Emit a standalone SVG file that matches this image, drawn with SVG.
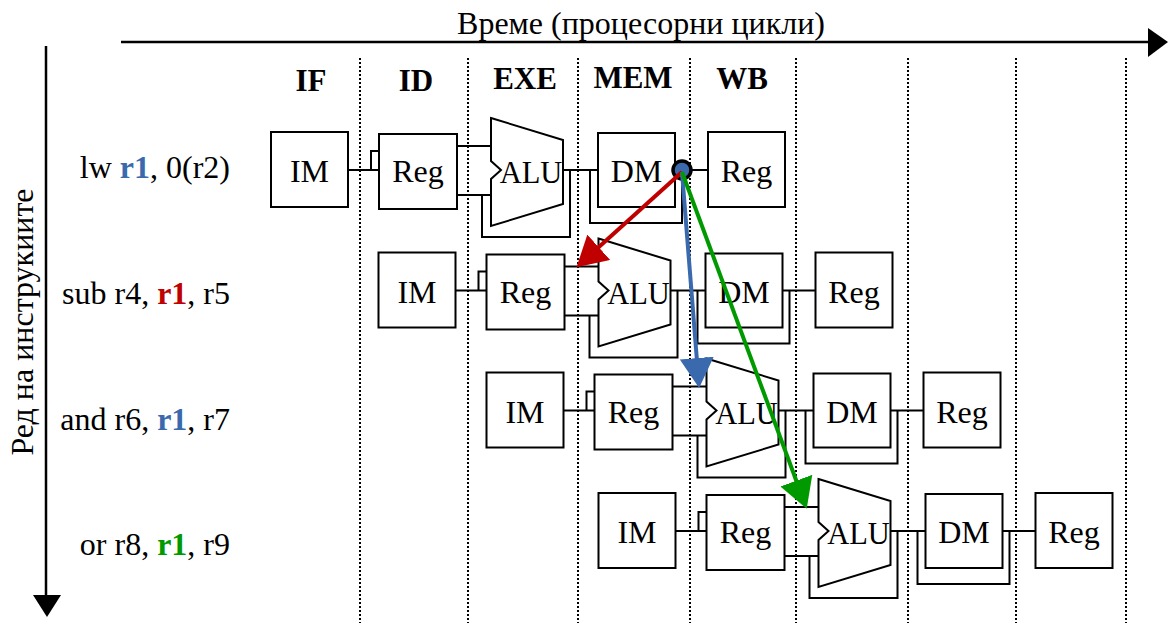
<svg xmlns="http://www.w3.org/2000/svg" xmlns:xlink="http://www.w3.org/1999/xlink" width="1168" height="623" viewBox="0 0 1168 623">
  <style>
    text { font-family: "Liberation Serif", "Times New Roman", serif; fill: #000; }
    .box { fill: #fff; stroke: #000; stroke-width: 2; }
    .alu { fill: #fff; stroke: #000; stroke-width: 2; stroke-linejoin: miter; }
    .lbl { font-size: 32px; text-anchor: middle; }
    .alu-lbl { font-size: 30.5px; text-anchor: middle; }
    .stage { font-size: 31px; font-weight: bold; text-anchor: middle; }
    .instr { font-size: 32px; text-anchor: end; }
    .wire { fill: none; stroke: #000; stroke-width: 2; }
    .grid { stroke: #000; stroke-width: 2; stroke-dasharray: 2 2; }
    .axis { stroke: #000; stroke-width: 2.5; }
    .fwd { fill: none; stroke-width: 4; }
    .b { font-weight: bold; }
  </style>
  <defs>
    <marker id="head-red" viewBox="0 0 30 34" refX="8" refY="17" markerWidth="30" markerHeight="34" markerUnits="userSpaceOnUse" orient="auto">
      <path d="M0,0 L30,17 L0,34 Z" fill="#c00000"/>
    </marker>
    <marker id="head-blue" viewBox="0 0 30 34" refX="8" refY="17" markerWidth="30" markerHeight="34" markerUnits="userSpaceOnUse" orient="auto">
      <path d="M0,0 L30,17 L0,34 Z" fill="#3a6aad"/>
    </marker>
    <marker id="head-green" viewBox="0 0 30 34" refX="8" refY="17" markerWidth="30" markerHeight="34" markerUnits="userSpaceOnUse" orient="auto">
      <path d="M0,0 L30,17 L0,34 Z" fill="#009a00"/>
    </marker>
    <!-- wiring of one pipeline row, in row-1 coordinates -->
    <path id="row-wires" class="wire" d="M348,170 H379 M371,170 V151 H379 M457,146 H491 M457,195 H491 M482,195 V237 H570 V170 M563,170 H598 M590,170 V223 H682 V170 M675,170 H708"/>
  </defs>

  <rect width="1168" height="623" fill="#fff"/>

  <!-- time axis and instruction-order axis -->
  <g id="axes">
    <line class="axis" x1="121" y1="42" x2="1150" y2="42"/>
    <polygon points="1148,28 1168,42 1148,57" fill="#000"/>
    <text x="641" y="34" font-size="32" text-anchor="middle">Време (процесорни цикли)</text>
    <line class="axis" x1="46" y1="46" x2="46" y2="597"/>
    <polygon points="33,595 61,595 47,617" fill="#000"/>
    <text transform="translate(33,322) rotate(-90)" font-size="32" text-anchor="middle">Ред на инструкиите</text>
  </g>

  <!-- cycle boundaries -->
  <g id="grid">
    <line class="grid" x1="360" y1="58" x2="360" y2="623"/>
    <line class="grid" x1="468" y1="58" x2="468" y2="623"/>
    <line class="grid" x1="578" y1="58" x2="578" y2="623"/>
    <line class="grid" x1="690" y1="58" x2="690" y2="623"/>
    <line class="grid" x1="796" y1="58" x2="796" y2="623"/>
    <line class="grid" x1="908" y1="58" x2="908" y2="623"/>
    <line class="grid" x1="1016" y1="58" x2="1016" y2="623"/>
    <line class="grid" x1="1126" y1="58" x2="1126" y2="623"/>
  </g>

  <!-- stage names -->
  <g id="stages">
    <text class="stage" x="311" y="91">IF</text>
    <text class="stage" x="416" y="91">ID</text>
    <text class="stage" x="525" y="89">EXE</text>
    <text class="stage" x="633" y="88">MEM</text>
    <text class="stage" x="742" y="89">WB</text>
  </g>

  <!-- instruction labels -->
  <g id="instructions">
    <text class="instr" x="230" y="178">lw <tspan class="b" fill="#3a6aad">r1</tspan>, 0(r2)</text>
    <text class="instr" x="230" y="304">sub r4, <tspan class="b" fill="#c00000">r1</tspan>, r5</text>
    <text class="instr" x="230" y="430">and r6, <tspan class="b" fill="#3a6aad">r1</tspan>, r7</text>
    <text class="instr" x="230" y="555">or r8, <tspan class="b" fill="#009a00">r1</tspan>, r9</text>
  </g>

  <!-- wiring between pipeline units -->
  <g id="connectors">
    <use xlink:href="#row-wires" href="#row-wires"/>
    <use xlink:href="#row-wires" href="#row-wires" transform="translate(107.5,120.5)"/>
    <use xlink:href="#row-wires" href="#row-wires" transform="translate(215.5,240.5)"/>
    <use xlink:href="#row-wires" href="#row-wires" transform="translate(327.5,361)"/>
  </g>

  <!-- row 1: lw -->
  <g id="row1">
    <g id="lw-im"><rect class="box" x="271" y="132" width="77" height="75"/><text class="lbl" x="309.5" y="182">IM</text></g>
    <g id="lw-reg"><rect class="box" x="379" y="134" width="78" height="75"/><text class="lbl" x="418" y="182">Reg</text></g>
    <g id="lw-alu"><polygon class="alu" points="491,118 563,140 563,204 491,226 491,179 501,170 491,161"/><text class="alu-lbl" x="531" y="183">ALU</text></g>
    <g id="lw-dm"><rect class="box" x="598" y="133" width="77" height="74"/><text class="lbl" x="636.5" y="182">DM</text></g>
    <g id="lw-wb"><rect class="box" x="708" y="132" width="77" height="75"/><text class="lbl" x="746.5" y="182">Reg</text></g>
  </g>

  <!-- row 2: sub -->
  <g id="row2" transform="translate(107.5,120.5)">
    <g id="sub-im"><rect class="box" x="271" y="132" width="77" height="75"/><text class="lbl" x="309.5" y="182">IM</text></g>
    <g id="sub-reg"><rect class="box" x="379" y="134" width="78" height="75"/><text class="lbl" x="418" y="182">Reg</text></g>
    <g id="sub-alu"><polygon class="alu" points="491,118 563,140 563,204 491,226 491,179 501,170 491,161"/><text class="alu-lbl" x="531" y="183">ALU</text></g>
    <g id="sub-dm"><rect class="box" x="598" y="133" width="77" height="74"/><text class="lbl" x="636.5" y="182">DM</text></g>
    <g id="sub-wb"><rect class="box" x="708" y="132" width="77" height="75"/><text class="lbl" x="746.5" y="182">Reg</text></g>
  </g>

  <!-- row 3: and -->
  <g id="row3" transform="translate(215.5,240.5)">
    <g id="and-im"><rect class="box" x="271" y="132" width="77" height="75"/><text class="lbl" x="309.5" y="182">IM</text></g>
    <g id="and-reg"><rect class="box" x="379" y="134" width="78" height="75"/><text class="lbl" x="418" y="182">Reg</text></g>
    <g id="and-alu"><polygon class="alu" points="491,118 563,140 563,204 491,226 491,179 501,170 491,161"/><text class="alu-lbl" x="531" y="183">ALU</text></g>
    <g id="and-dm"><rect class="box" x="598" y="133" width="77" height="74"/><text class="lbl" x="636.5" y="182">DM</text></g>
    <g id="and-wb"><rect class="box" x="708" y="132" width="77" height="75"/><text class="lbl" x="746.5" y="182">Reg</text></g>
  </g>

  <!-- row 4: or -->
  <g id="row4" transform="translate(327.5,361)">
    <g id="or-im"><rect class="box" x="271" y="132" width="77" height="75"/><text class="lbl" x="309.5" y="182">IM</text></g>
    <g id="or-reg"><rect class="box" x="379" y="134" width="78" height="75"/><text class="lbl" x="418" y="182">Reg</text></g>
    <g id="or-alu"><polygon class="alu" points="491,118 563,140 563,204 491,226 491,179 501,170 491,161"/><text class="alu-lbl" x="531" y="183">ALU</text></g>
    <g id="or-dm"><rect class="box" x="598" y="133" width="77" height="74"/><text class="lbl" x="636.5" y="182">DM</text></g>
    <g id="or-wb"><rect class="box" x="708" y="132" width="77" height="75"/><text class="lbl" x="746.5" y="182">Reg</text></g>
  </g>

  <!-- forwarding of r1 from the lw memory stage -->
  <g id="forwarding">
    <circle id="fwd-src" cx="682" cy="170" r="9" fill="#3a6aad" stroke="#000" stroke-width="3.5"/>
    <line class="fwd" x1="682" y1="172" x2="592.8" y2="252.6" stroke="#c00000" marker-end="url(#head-red)"/>
    <line class="fwd" x1="682" y1="172" x2="697.4" y2="366.1" stroke="#3a6aad" marker-end="url(#head-blue)"/>
    <line class="fwd" x1="682" y1="172" x2="799.1" y2="488.2" stroke="#009a00" marker-end="url(#head-green)"/>
  </g>
</svg>
